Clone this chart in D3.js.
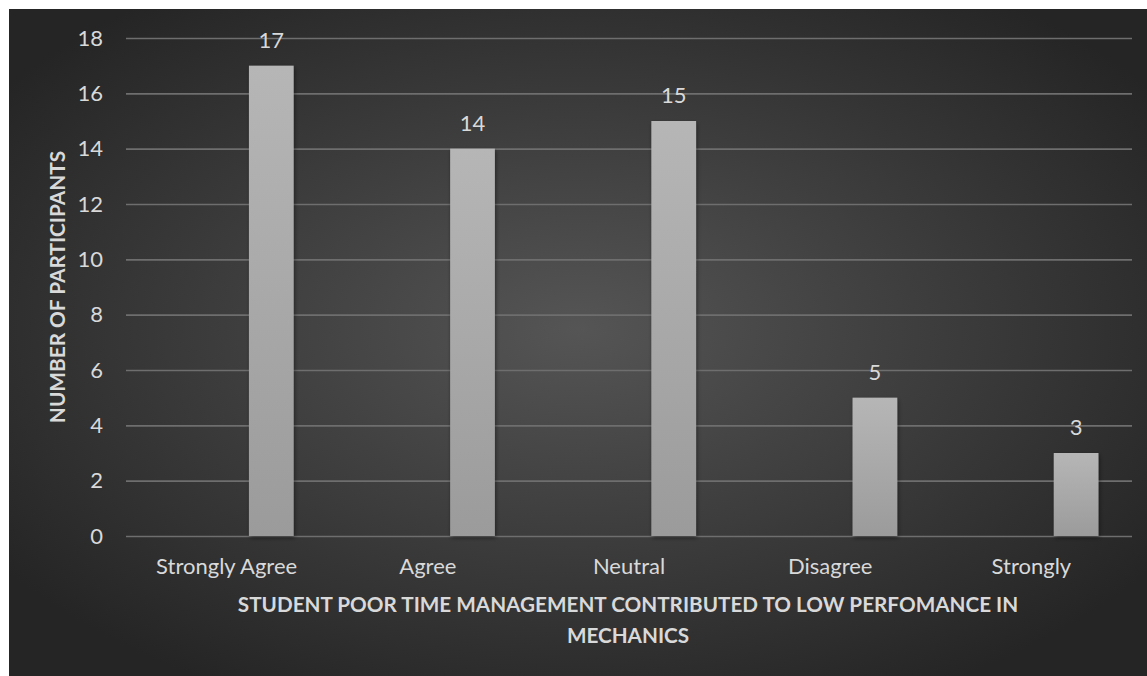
<!DOCTYPE html>
<html>
<head>
<meta charset="utf-8">
<script src="https://cdn.jsdelivr.net/npm/d3@7"></script>
<style>
  html, body { margin: 0; padding: 0; background: #ffffff; }
  svg { display: block; }
  text { font-family: Lato, "Open Sans", "DejaVu Sans", sans-serif; }
</style>
</head>
<body>
<svg id="chart" width="1147" height="676"></svg>
<script>
// Survey responses
const categories = ["Strongly Agree", "Agree", "Neutral", "Disagree", "Strongly"];
const participants = [17, 14, 15, 5, 3];
const yTicks = [0, 2, 4, 6, 8, 10, 12, 14, 16, 18];
const xTitleLines = ["STUDENT POOR TIME MANAGEMENT CONTRIBUTED TO LOW PERFOMANCE IN", "MECHANICS"];
const yTitle = "NUMBER OF PARTICIPANTS";
// three series slots per category; responses sit in the last one
const seriesSlots = [0, 1, 2];
const responseSlot = 2;

const W = 1147, H = 676;
const svg = d3.select("#chart");
const defs = svg.append("defs");

const bg = defs.append("radialGradient").attr("id", "bgGrad")
  .attr("cx", "50%").attr("cy", "48%").attr("r", "62%");
bg.append("stop").attr("offset", "0%").attr("stop-color", "#555555");
bg.append("stop").attr("offset", "100%").attr("stop-color", "#252525");

const barGrad = defs.append("linearGradient").attr("id", "barGrad")
  .attr("x1", 0).attr("y1", 0).attr("x2", 0).attr("y2", 1);
barGrad.append("stop").attr("offset", "0%").attr("stop-color", "#b6b6b6");
barGrad.append("stop").attr("offset", "100%").attr("stop-color", "#9b9b9b");

const shadow = defs.append("filter").attr("id", "barShadow")
  .attr("x", "-20%").attr("y", "-10%").attr("width", "150%").attr("height", "130%");
shadow.append("feDropShadow").attr("dx", 1).attr("dy", 2)
  .attr("stdDeviation", 2).attr("flood-color", "#000").attr("flood-opacity", 0.45);

// chart background
svg.append("rect").attr("x", 9).attr("y", 9).attr("width", W - 9).attr("height", H - 9)
  .attr("fill", "url(#bgGrad)");

const plot = { left: 126, right: 1132, top: 38, bottom: 536 };

const x = d3.scaleBand().domain(categories).range([plot.left, plot.right]).padding(0);
const xSlot = d3.scaleBand().domain(seriesSlots).range([0, x.bandwidth()])
  .paddingInner(0).paddingOuter(0.75);
const y = d3.scaleLinear().domain([0, 18]).range([plot.bottom, plot.top]);

// gridlines
const yAxis = d3.axisLeft(y).tickValues(yTicks).tickSize(-(plot.right - plot.left)).tickPadding(23);
const gy = svg.append("g").attr("transform", `translate(${plot.left},0)`).call(yAxis);
gy.select(".domain").remove();
gy.selectAll(".tick line").attr("stroke", "#6e6e6e").attr("stroke-width", 1.6);
gy.selectAll(".tick text").attr("fill", "#d9d9d9").attr("font-size", 22);

// category labels
const xAxis = d3.axisBottom(x).tickSize(0).tickPadding(22);
const gx = svg.append("g").attr("transform", `translate(0,${plot.bottom})`).call(xAxis);
gx.select(".domain").remove();
gx.selectAll(".tick text").attr("fill", "#d9d9d9").attr("font-size", 22);

// bars
const bars = svg.append("g");
bars.selectAll("rect").data(categories).join("rect")
  .attr("x", d => x(d) + xSlot(responseSlot))
  .attr("width", xSlot.bandwidth())
  .attr("y", (d, i) => y(participants[i]))
  .attr("height", (d, i) => y(0) - y(participants[i]))
  .attr("fill", "url(#barGrad)")
  .attr("filter", "url(#barShadow)");

// value labels
svg.append("g").selectAll("text").data(categories).join("text")
  .attr("x", d => x(d) + xSlot(responseSlot) + xSlot.bandwidth() / 2)
  .attr("y", (d, i) => y(participants[i]) - 18)
  .attr("text-anchor", "middle")
  .attr("fill", "#d9d9d9").attr("font-size", 22)
  .text((d, i) => participants[i]);

// axis titles
svg.append("text")
  .attr("transform", `translate(65,${(plot.top + plot.bottom) / 2}) rotate(-90)`)
  .attr("text-anchor", "middle")
  .attr("fill", "#d9d9d9").attr("font-size", 20.8).attr("font-weight", "bold")
  .text(yTitle);

const xt = svg.append("text").attr("text-anchor", "middle")
  .attr("fill", "#d9d9d9").attr("font-size", 20.7).attr("font-weight", "bold");
xTitleLines.forEach((line, i) => {
  xt.append("tspan").attr("x", 628).attr("y", 612 + i * 31).text(line);
});
</script>
</body>
</html>
